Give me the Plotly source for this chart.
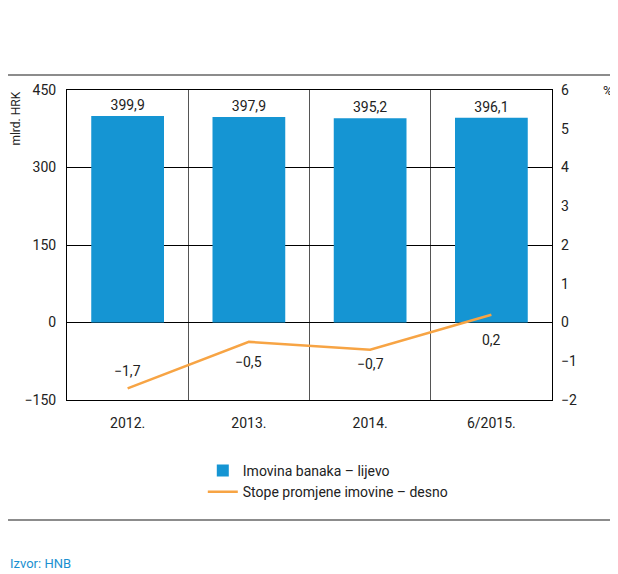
import plotly.graph_objects as go

# ─── Data ─────────────────────────────────────────────────────────────────────
categories   = ["2012.", "2013.", "2014.", "6/2015."]
assets       = [399.9, 397.9, 395.2, 396.1]          # mlrd. HRK, left axis
growth_rates = [-1.7, -0.5, -0.7, 0.2]               # %, right axis

bar_labels  = ["399,9", "397,9", "395,2", "396,1"]
line_labels = ["\u22121,7", "\u22120,5", "\u22120,7", "0,2"]
left_ticks  = [-150, 0, 150, 300, 450]
left_text   = ["\u2212150", "0", "150", "300", "450"]
right_ticks = [-2, -1, 0, 1, 2, 3, 4, 5, 6]
right_text  = ["\u22122", "\u22121", "0", "1", "2", "3", "4", "5", "6"]

FONT = "Roboto, 'Liberation Sans', sans-serif"
BLUE = "#1595d3"
ORANGE = "#f7a444"
TXT = "#222222"

fig = go.Figure()

fig.add_trace(go.Bar(
    x=categories, y=assets,
    name="Imovina banaka \u2013 lijevo",
    marker_color=BLUE, marker_line_width=0,
    width=0.6,
    text=bar_labels, textposition="outside",
    textfont=dict(size=14, color=TXT),
    cliponaxis=False,
))

fig.add_trace(go.Scatter(
    x=categories, y=growth_rates,
    name="Stope promjene imovine \u2013 desno",
    yaxis="y2", mode="lines",
    line=dict(color=ORANGE, width=2.5),
))

# value labels for the line (pixel offset from each point)
label_shift = [17, -20, -14, -25]
annotations = [
    dict(x=i, y=v, xref="x", yref="y2", text=t, yshift=s,
         showarrow=False, font=dict(size=14, color=TXT))
    for i, (v, t, s) in enumerate(zip(growth_rates, line_labels, label_shift))
]
annotations += [
    dict(text="mlrd. HRK", xref="paper", yref="paper", x=-0.106, y=1.0,
         xanchor="center", yanchor="top", textangle=-90, showarrow=False,
         font=dict(size=12, color=TXT)),
    dict(text="%", xref="paper", yref="paper", x=1.1, y=1.0,
         xanchor="left", yanchor="middle", showarrow=False,
         font=dict(size=13, color=TXT)),
    dict(text="Izvor: HNB", xref="paper", yref="paper", x=-0.1216, y=-0.526,
         xanchor="left", yanchor="middle", showarrow=False,
         font=dict(size=13, color="#1a90d0")),
]

fig.update_layout(
    width=610, height=566,
    font=dict(family=FONT, size=14, color=TXT),
    plot_bgcolor="white", paper_bgcolor="white",
    margin=dict(l=59, r=66, t=82, b=174, autoexpand=False),
    showlegend=True,
    legend=dict(
        x=0.28, y=-0.177, xanchor="left", yanchor="top",
        orientation="v", font=dict(size=14, color=TXT),
        itemwidth=30, tracegroupgap=0,
    ),
    xaxis=dict(
        type="category", tickson="boundaries", automargin=False,
        showgrid=True, gridcolor="#555555", gridwidth=1,
        showline=True, linecolor="black", linewidth=1, mirror=True,
        ticks="", ticklen=0, ticklabelstandoff=10,
        tickfont=dict(size=14, color=TXT),
    ),
    yaxis=dict(
        range=[-150, 450], tickvals=left_ticks, ticktext=left_text,
        automargin=False,
        showgrid=True, gridcolor="black", gridwidth=1, zeroline=False,
        showline=True, linecolor="black", linewidth=1, mirror=True,
        ticks="", ticklabelstandoff=7,
    ),
    yaxis2=dict(
        range=[-2, 6], tickvals=right_ticks, ticktext=right_text,
        overlaying="y", side="right", automargin=False,
        showgrid=False, zeroline=False, showline=False,
        ticks="", ticklabelstandoff=8,
    ),
    shapes=[
        dict(type="line", xref="paper", yref="paper", x0=-0.1216, x1=1.136,
             y0=1.048, y1=1.048, line=dict(color="#666666", width=1.5)),
        dict(type="line", xref="paper", yref="paper", x0=-0.1216, x1=1.136,
             y0=-0.387, y1=-0.387, line=dict(color="#666666", width=1.5)),
    ],
    annotations=annotations,
)

fig.write_html("out.html")
